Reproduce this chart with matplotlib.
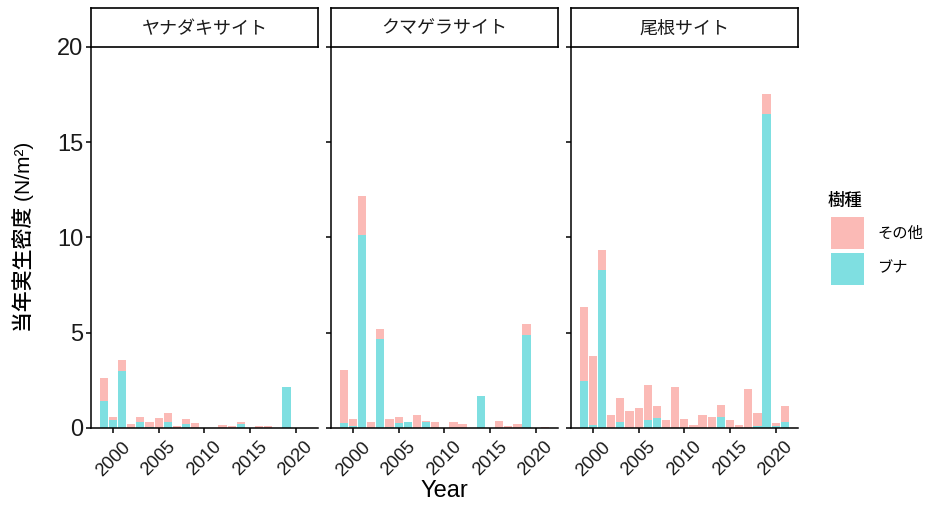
import matplotlib
matplotlib.use("Agg")
import matplotlib.pyplot as plt
from matplotlib.patches import Rectangle
import numpy as np

plt.rcParams['font.family'] = ['Liberation Sans', 'Noto Sans CJK JP', 'DejaVu Sans']

years = list(range(1999, 2022))
sites = ["ヤナダキサイト", "クマゲラサイト", "尾根サイト"]
species = ["その他", "ブナ"]
colors = {"その他": "#FBBAB6", "ブナ": "#7FDFE1"}

# ブナ (beech) and その他 (other) densities per year, 1999..2021
yanadaki_buna = [1.4, 0.4, 3.0, 0.0, 0.3, 0.05, 0.0, 0.3, 0.0, 0.2, 0.0, 0.0, 0.0, 0.0, 0.0, 0.23, 0.0, 0.0, 0.0, 0.0, 2.14, 0.0, 0.0]
yanadaki_other = [1.24, 0.2, 0.55, 0.22, 0.3, 0.27, 0.5, 0.5, 0.11, 0.26, 0.25, 0.0, 0.0, 0.18, 0.1, 0.07, 0.0, 0.11, 0.11, 0.0, 0.0, 0.0, 0.0]
kumagera_buna = [0.25, 0.1, 10.12, 0.0, 4.65, 0.05, 0.25, 0.3, 0.0, 0.3, 0.0, 0.0, 0.0, 0.0, 0.0, 1.7, 0.0, 0.0, 0.0, 0.0, 4.88, 0.0, 0.0]
kumagera_other = [2.8, 0.35, 2.06, 0.33, 0.53, 0.4, 0.35, 0.03, 0.68, 0.08, 0.33, 0.0, 0.3, 0.23, 0.0, 0.0, 0.0, 0.36, 0.1, 0.2, 0.57, 0.0, 0.05]
one_buna = [2.45, 0.15, 8.3, 0.0, 0.33, 0.0, 0.0, 0.42, 0.5, 0.0, 0.0, 0.0, 0.0, 0.0, 0.0, 0.6, 0.0, 0.0, 0.0, 0.12, 16.45, 0.08, 0.3]
one_other = [3.92, 3.65, 1.05, 0.7, 1.22, 0.9, 1.03, 1.81, 0.68, 0.42, 2.13, 0.49, 0.15, 0.66, 0.59, 0.6, 0.42, 0.15, 2.07, 0.68, 1.05, 0.2, 0.83]

data = {
    "ヤナダキサイト": (yanadaki_buna, yanadaki_other),
    "クマゲラサイト": (kumagera_buna, kumagera_other),
    "尾根サイト": (one_buna, one_other),
}

xticks = [2000, 2005, 2010, 2015, 2020]
yticks = [0, 5, 10, 15, 20]

W, H = 930, 507
fig = plt.figure(figsize=(W / 100, H / 100), dpi=100)

def fx(px):
    return px / W

def fy(py):
    return 1 - py / H

panel_left = [90.7, 330.7, 570.7]
panel_w = 227.6
top_px, bot_px = 46.7, 428.0
strip_top = 8.3

for i, site in enumerate(sites):
    buna, other = data[site]
    ax = fig.add_axes([fx(panel_left[i]), fy(bot_px), panel_w / W, (bot_px - top_px) / H])
    ax.bar(years, buna, width=0.9, color=colors["ブナ"], linewidth=0)
    ax.bar(years, other, width=0.9, bottom=buna, color=colors["その他"], linewidth=0)
    ax.set_xlim(1997.57, 2022.47)
    ax.set_ylim(0, 20)
    ax.set_xticks(xticks)
    ax.set_xticklabels([str(t) for t in xticks], rotation=45, ha='center', va='top', fontsize=13.2)
    ax.set_yticks(yticks)
    if i == 0:
        ax.set_yticklabels([str(t) for t in yticks], fontsize=17)
    else:
        ax.set_yticklabels([])
    for s in ["top", "right"]:
        ax.spines[s].set_visible(False)
    for s in ["left", "bottom"]:
        ax.spines[s].set_linewidth(1.1)
        ax.spines[s].set_color("black")
    ax.tick_params(axis='both', length=3.5, width=1.1, color="black", labelcolor="#1a1a1a")
    ax.tick_params(axis='x', pad=4)
    ax.tick_params(axis='y', pad=2)

    sax = fig.add_axes([fx(panel_left[i]), fy(top_px), panel_w / W, (top_px - strip_top) / H])
    sax.set_xticks([])
    sax.set_yticks([])
    for s in sax.spines.values():
        s.set_linewidth(1.2)
        s.set_color("black")
    sax.text(0.5, 0.45, site, ha='center', va='center', fontsize=13, color="#1a1a1a",
             transform=sax.transAxes)

# axis titles
fig.text(fx(444.5), fy(491), "Year", ha='center', va='center', fontsize=17, color="black")
fig.text(fx(23), fy(237), "当年実生密度 (N/m²)", ha='center', va='center', rotation=90,
         fontsize=15, color="black", fontweight='medium')

# legend
fig.text(fx(828), fy(201), "樹種", ha='left', va='center', fontsize=12.5, color="black",
         fontweight='medium')
key_y = [217.3, 252.7]
for sp, ky in zip(species, key_y):
    fig.patches.append(Rectangle((fx(830.7), fy(ky + 32)), 33.6 / W, 32 / H,
                                 transform=fig.transFigure, facecolor=colors[sp], edgecolor="none"))
    fig.text(fx(877), fy(ky + 16), sp, ha='left', va='center', fontsize=11, color="black")

fig.savefig("out.png", dpi=100)
